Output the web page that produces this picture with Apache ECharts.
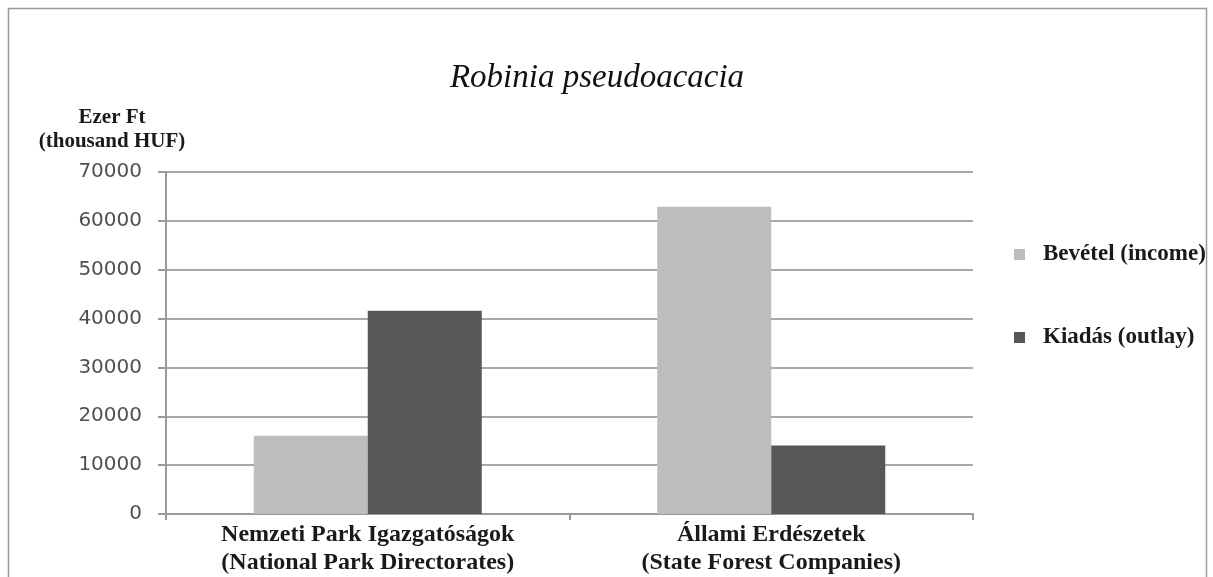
<!DOCTYPE html>
<html><head><meta charset="utf-8">
<script src="https://cdn.jsdelivr.net/npm/echarts@6/dist/echarts.min.js"></script>
<style>html,body{margin:0;padding:0;background:#fff}#c{width:1213px;height:577px}</style>
</head><body><div id="c"></div>
<script>
const categories = ['Nemzeti Park Igazgatóságok\n(National Park Directorates)', 'Állami Erdészetek\n(State Forest Companies)'];
const income = [16000, 62900];
const outlay = [41600, 14000];
const seriesNames = ['Bevétel (income)', 'Kiadás (outlay)'];
const chart = echarts.init(document.getElementById('c'));
const serif = '"Liberation Serif", "DejaVu Serif", serif';
chart.setOption({
  animation: false,
  backgroundColor: '#fff',
  title: { text: 'Robinia pseudoacacia', left: 592, top: 57, textAlign: 'center',
    textStyle: { fontFamily: serif, fontStyle: 'italic', fontWeight: 'normal', fontSize: 33, color: '#111' } },
  graphic: [{ type: 'rect', shape: { x: 8.5, y: 8.5, width: 1198, height: 600 }, style: { fill: 'none', stroke: '#9a9a9a', lineWidth: 1.5 } }],
  legend: { orient: 'vertical', left: 1009, top: 238, itemGap: 60, itemWidth: 11, itemHeight: 11, icon: 'rect',
    textStyle: { fontFamily: serif, fontWeight: 'bold', fontSize: 23, color: '#1a1a1a', padding: [0, 0, 0, 13] } },
  grid: { left: 166, right: 240, top: 172, bottom: 62, containLabel: false },
  xAxis: { type: 'category', data: categories,
    axisLine: { lineStyle: { color: '#9a9a9a', width: 2 } },
    axisTick: { show: true, length: 6, lineStyle: { color: '#9a9a9a', width: 2 } },
    axisLabel: { fontFamily: serif, fontWeight: 'bold', fontSize: 24, color: '#1a1a1a', lineHeight: 28, margin: 7 } },
  yAxis: { type: 'value', min: 0, max: 70000, interval: 10000,
    name: 'Ezer Ft\n(thousand HUF)', nameLocation: 'end', nameGap: 18,
    nameTextStyle: { fontFamily: serif, fontWeight: 'bold', fontSize: 21, color: '#1a1a1a', lineHeight: 24, align: 'center', padding: [0, 108, 0, 0] },
    axisLine: { show: true, lineStyle: { color: '#9a9a9a', width: 2 } },
    axisTick: { show: true, length: 8, lineStyle: { color: '#9a9a9a', width: 2 } },
    splitLine: { lineStyle: { color: '#a8a8a8', width: 2 } },
    axisLabel: { fontFamily: '"DejaVu Sans", Verdana, sans-serif', fontSize: 20, color: '#505050', margin: 24,
      formatter: function (v) { return String(v); } } },
  series: [
    { name: seriesNames[0], type: 'bar', data: income, barWidth: 114, barGap: '0%', itemStyle: { color: '#bdbdbd' } },
    { name: seriesNames[1], type: 'bar', data: outlay, barWidth: 114, itemStyle: { color: '#575757' } }
  ]
});
</script></body></html>
